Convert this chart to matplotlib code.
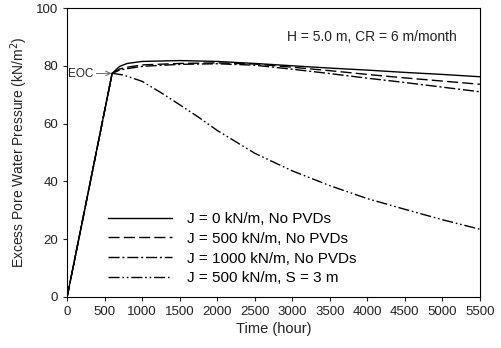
import matplotlib
matplotlib.use("Agg")
import matplotlib.pyplot as plt

plt.rcParams["font.family"] = ["Liberation Sans", "DejaVu Sans"]

# time (hour) and excess pore water pressure (kN/m2)
t_j0 = [0, 600, 700, 800, 1000, 1500, 2000, 2500, 3000, 3500, 4000, 4500, 5000, 5500]
u_j0 = [0, 77.4, 79.8, 80.8, 81.5, 81.8, 81.5, 80.8, 80.0, 79.2, 78.5, 77.7, 77.0, 76.2]

t_j500 = [0, 600, 700, 800, 1000, 1500, 2000, 2500, 3000, 3500, 4000, 4500, 5000, 5500]
u_j500 = [0, 77.4, 78.9, 79.5, 80.3, 80.8, 81.0, 80.6, 79.5, 78.3, 77.0, 75.8, 74.7, 73.6]

t_j1000 = [0, 600, 700, 800, 1000, 1500, 2000, 2500, 3000, 3500, 4000, 4500, 5000, 5500]
u_j1000 = [0, 77.4, 78.5, 79.0, 79.8, 80.5, 80.7, 80.2, 78.8, 77.3, 75.7, 74.2, 72.6, 71.0]

t_pvd = [0, 600, 750, 1000, 1250, 1500, 1750, 2000, 2500, 3000, 3500, 4000, 4500, 5000, 5500]
u_pvd = [0, 77.4, 76.8, 74.6, 70.7, 66.5, 62.2, 57.6, 49.7, 43.6, 38.5, 34.0, 30.3, 26.7, 23.4]

labels = ["J = 0 kN/m, No PVDs", "J = 500 kN/m, No PVDs",
          "J = 1000 kN/m, No PVDs", "J = 500 kN/m, S = 3 m"]

fig = plt.figure(figsize=(5.01, 3.48), dpi=100)
ax = fig.add_axes([0.134, 0.147, 0.824, 0.830])

ax.plot(t_j0, u_j0, color="black", lw=1.0, ls="-", label=labels[0])
ax.plot(t_j500, u_j500, color="black", lw=1.0, ls=(0, (8, 3)), label=labels[1])
ax.plot(t_j1000, u_j1000, color="black", lw=1.0, ls=(0, (8, 2, 1.5, 2)), label=labels[2])
ax.plot(t_pvd, u_pvd, color="black", lw=1.0, ls=(0, (8, 2, 1.2, 2, 1.2, 2)), label=labels[3])

ax.set_xlim(0, 5500)
ax.set_ylim(0, 100)
ax.set_xticks(range(0, 5501, 500))
ax.set_yticks(range(0, 101, 20))
ax.tick_params(direction="out", length=3, labelsize=9.5, colors="#222222")
ax.set_xlabel("Time (hour)", fontsize=10.5, color="#222222", labelpad=3)
ax.set_ylabel("Excess Pore Water Pressure (kN/m$^2$)", fontsize=10, color="#222222")

ax.text(0.737, 0.90, "H = 5.0 m, CR = 6 m/month", transform=ax.transAxes,
        ha="center", va="center", fontsize=10, color="#222222")
ax.annotate("EOC", xy=(590, 77.4), xytext=(15, 77.2), ha="left", va="center",
            fontsize=8.5, color="#222222",
            arrowprops=dict(arrowstyle="->", color="#666666", lw=0.7,
                            shrinkA=0, shrinkB=0))

ax.legend(loc="lower left", bbox_to_anchor=(0.072, 0.0), frameon=False,
          fontsize=11, handlelength=4.2, labelspacing=0.38, handletextpad=0.95,
          borderpad=0.25)

fig.savefig("out.png", dpi=100)
